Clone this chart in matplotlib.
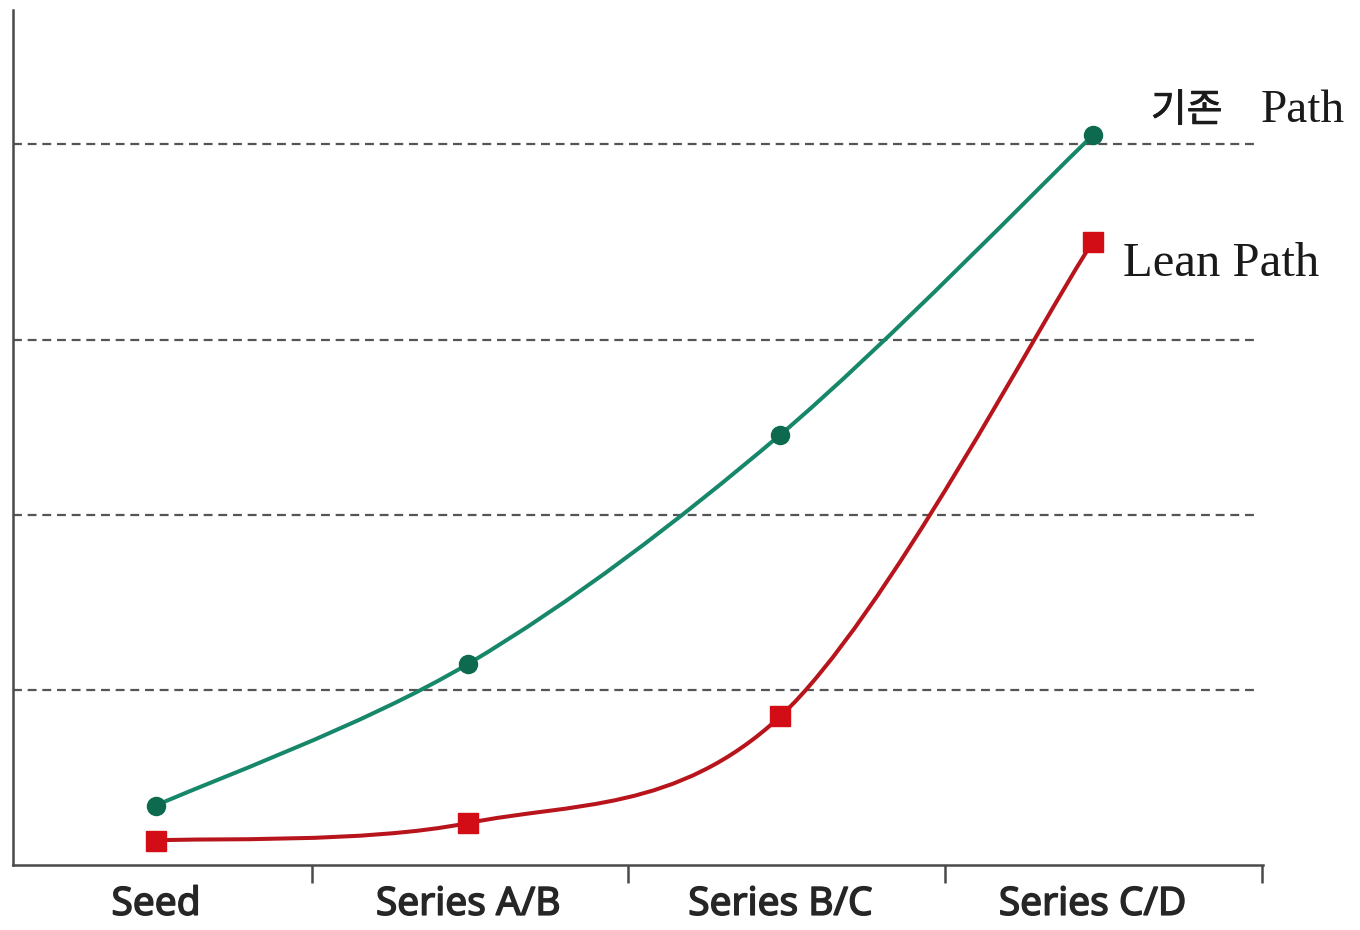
import matplotlib
matplotlib.use("Agg")
import matplotlib.pyplot as plt
import matplotlib.patheffects as pe
import numpy as np
from matplotlib.path import Path
from matplotlib.patches import PathPatch

categories = ["Seed", "Series A/B", "Series B/C", "Series C/D"]
existing_path = [0.34, 1.15, 2.46, 4.17]
lean_path = [0.14, 0.24, 0.85, 3.56]
grid_levels = [1.0, 2.0, 3.0, 4.12]
label_existing_kr = "기존"
label_existing_en = "Path"
label_lean = "Lean Path"

GREEN_LINE = "#17876a"
GREEN_MARK = "#0d6a4e"
RED_LINE = "#b8141c"
RED_MARK = "#d30d15"
AXIS = "#4a4a4a"
TXT = "#262626"

fig = plt.figure(figsize=(13.6, 9.3), dpi=100)
ax = fig.add_axes([0.0096, 0.0699, 0.9191, 0.9191])

x = np.arange(len(categories), dtype=float)


def smooth_path(xs, ys):
    pts = np.column_stack([xs, ys])
    n = len(pts)
    verts = [pts[0]]
    codes = [Path.MOVETO]
    for i in range(n - 1):
        p0 = pts[i - 1] if i > 0 else pts[i]
        p1 = pts[i]
        p2 = pts[i + 1]
        p3 = pts[i + 2] if i + 2 < n else pts[i + 1]
        c1 = p1 + (p2 - p0) / 6.0
        c2 = p2 - (p3 - p1) / 6.0
        verts += [c1, c2, p2]
        codes += [Path.CURVE4] * 3
    return Path(verts, codes)


for lv in grid_levels:
    ax.axhline(lv, xmin=0, xmax=0.996, color="#555555", lw=1.6,
               ls=(0, (4, 2.6)), zorder=1)

ax.add_patch(PathPatch(smooth_path(x, existing_path), fill=False,
                       edgecolor=GREEN_LINE, lw=2.9, zorder=3, capstyle="round"))
ax.add_patch(PathPatch(smooth_path(x, lean_path), fill=False,
                       edgecolor=RED_LINE, lw=2.9, zorder=3, capstyle="round"))

ax.plot(x, existing_path, ls="none", marker="o", ms=13, color=GREEN_MARK, zorder=4)
ax.plot(x, lean_path, ls="none", marker="s", ms=14, color=RED_MARK, zorder=4)

ax.set_xlim(-0.458, 3.546)
ax.set_ylim(0, 4.886)

for s in ["top", "right"]:
    ax.spines[s].set_visible(False)
for s in ["left", "bottom"]:
    ax.spines[s].set_color(AXIS)
    ax.spines[s].set_linewidth(1.8)

ax.set_yticks([])
ax.set_xticks(x)
ax.set_xticklabels(categories, fontfamily="Noto Sans", fontsize=28,
                   color=TXT)
for lbl in ax.get_xticklabels():
    lbl.set_path_effects([pe.withStroke(linewidth=1.1, foreground=TXT)])
ax.tick_params(axis="x", which="major", length=0, pad=15)
ax.set_xticks([0.499, 1.511, 2.526, 3.544], minor=True)
ax.tick_params(axis="x", which="minor", length=13, width=1.8, color=AXIS,
               direction="out")

t = ax.annotate(label_existing_kr, (x[-1], existing_path[-1]), xytext=(42, 10),
                textcoords="offset points", ha="left", va="baseline",
                fontsize=28, family=["Noto Sans CJK KR", "DejaVu Sans"],
                color="#1a1a1a", annotation_clip=False)
t.set_path_effects([pe.withStroke(linewidth=0.6, foreground="#1a1a1a")])
ax.annotate(label_existing_en, (x[-1], existing_path[-1]), xytext=(121, 10),
            textcoords="offset points", ha="left", va="baseline",
            fontsize=34, family="Liberation Serif",
            color="#1a1a1a", annotation_clip=False)
ax.annotate(label_lean, (x[-1], lean_path[-1]), xytext=(22, -24),
            textcoords="offset points", ha="left", va="baseline",
            fontsize=35, family="Liberation Serif",
            color="#1a1a1a", annotation_clip=False)

fig.savefig("out.png", dpi=100, facecolor="white")
